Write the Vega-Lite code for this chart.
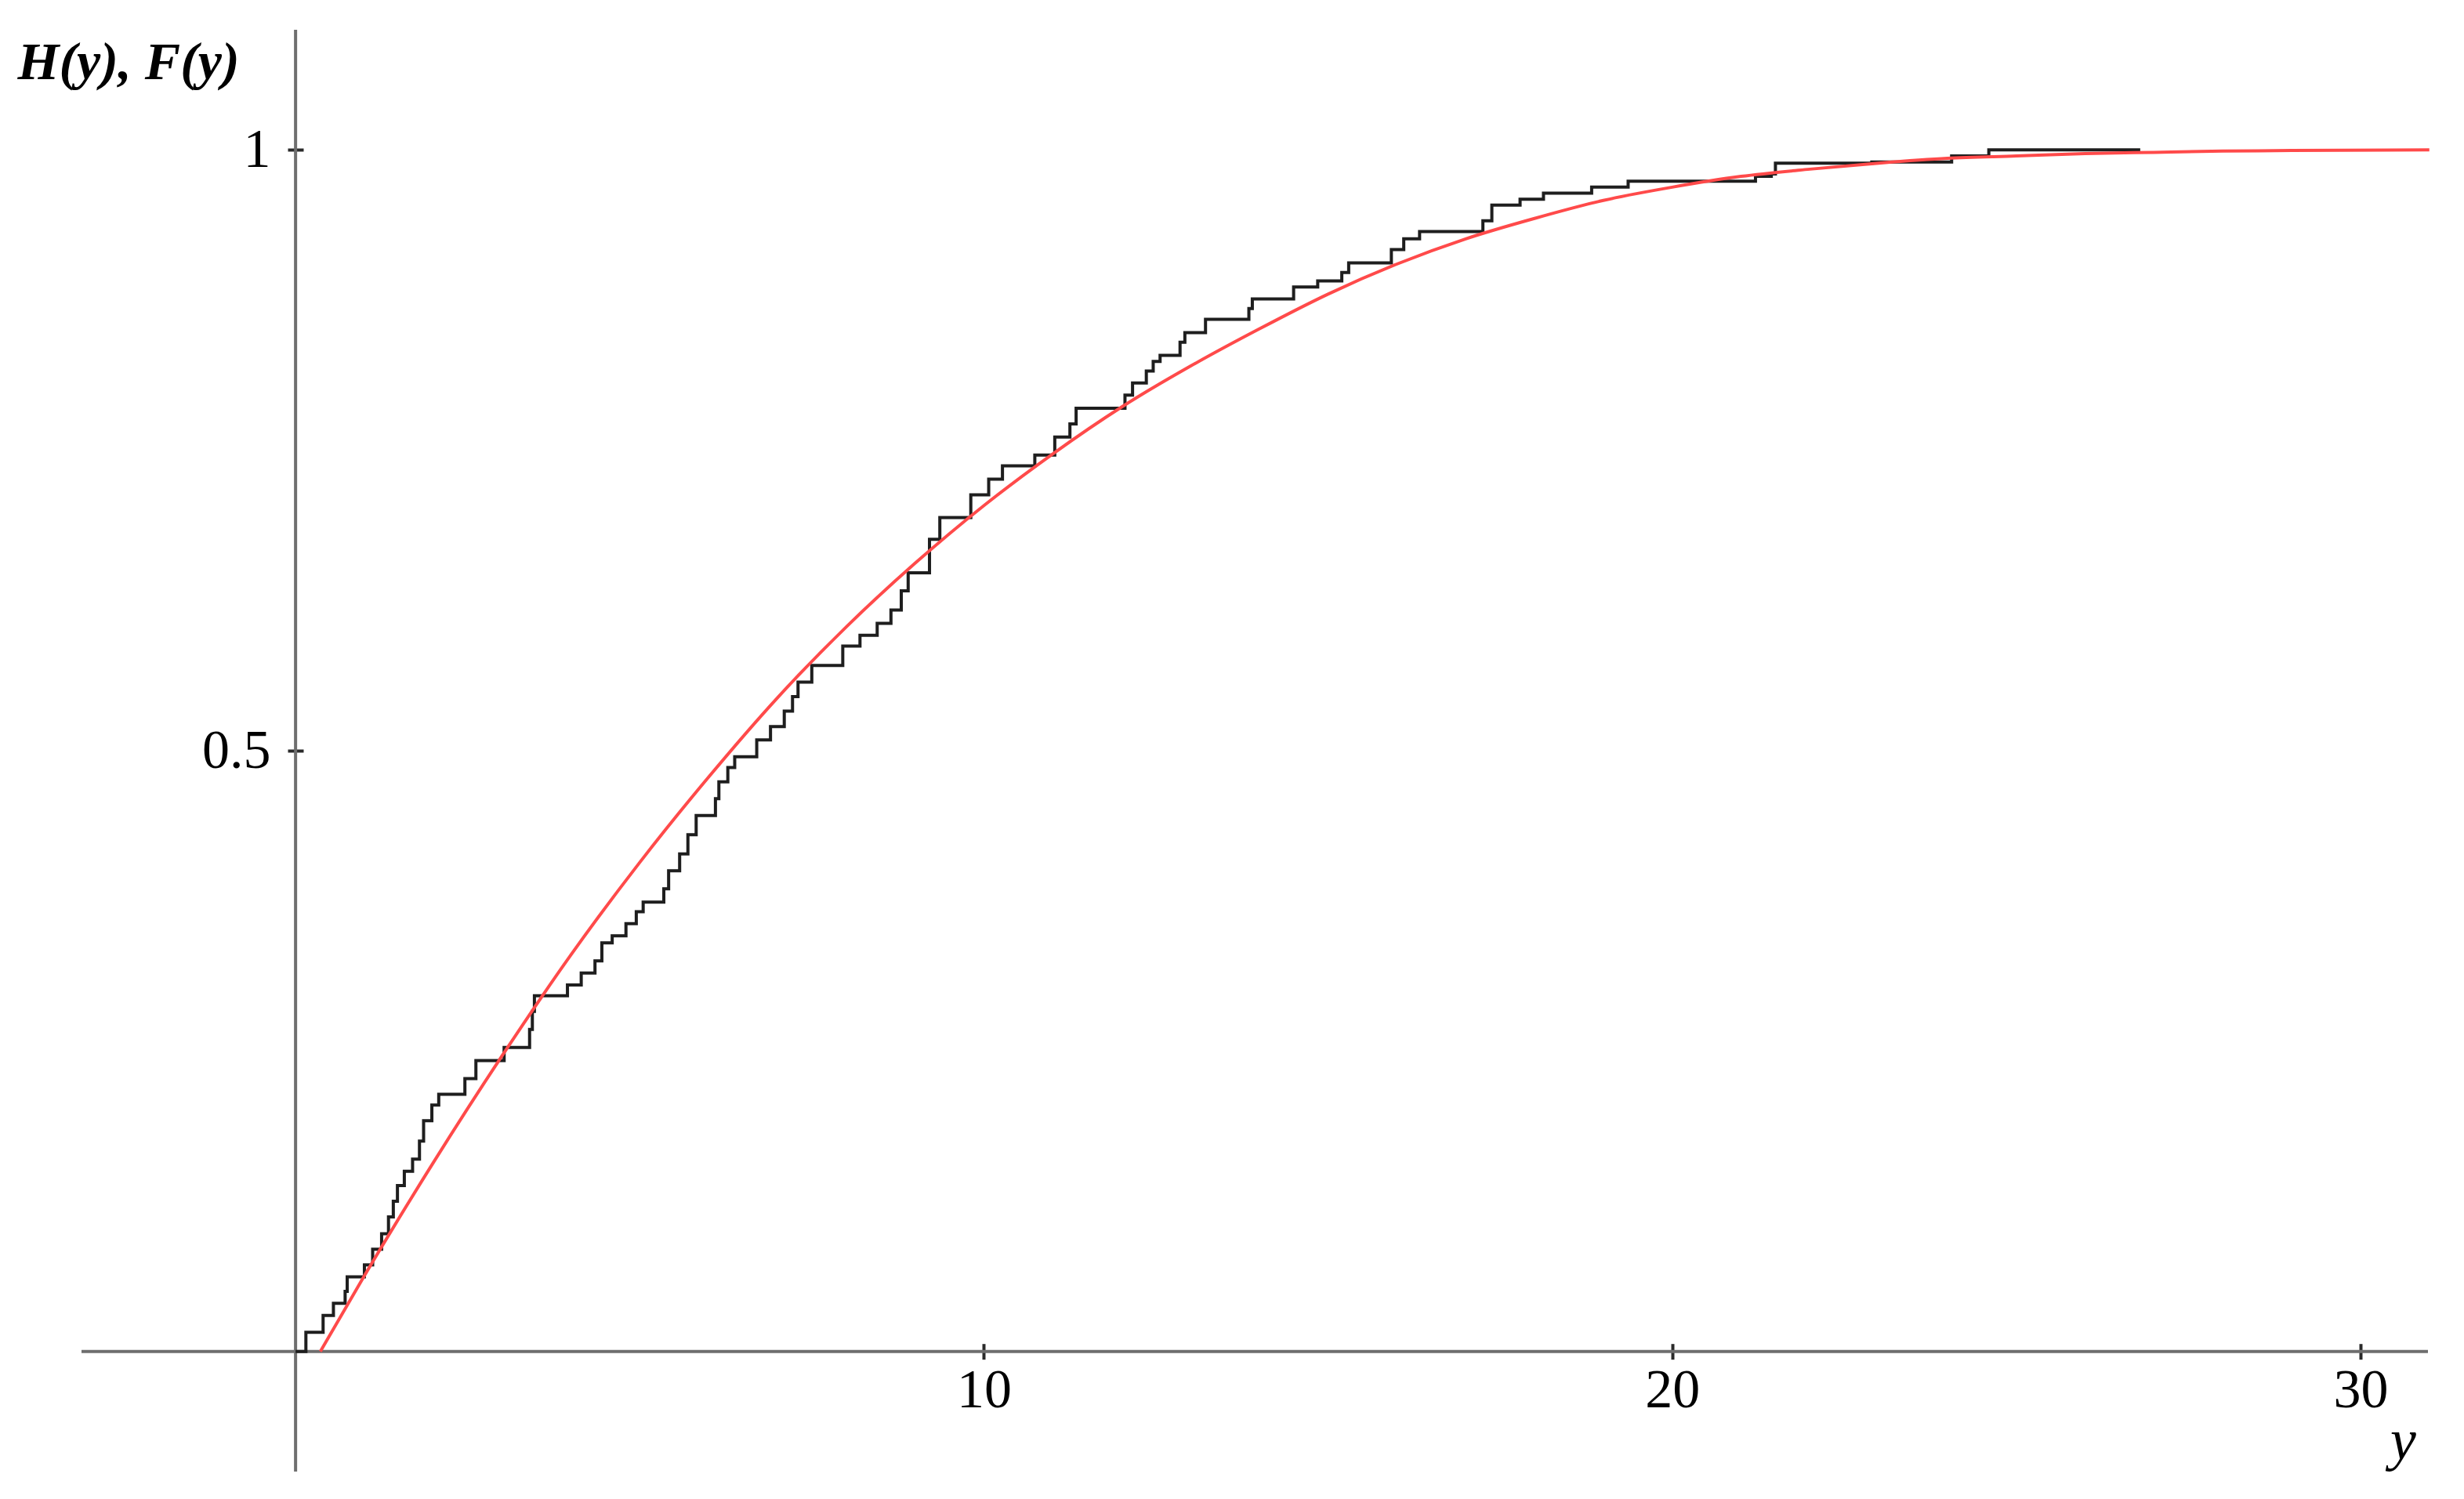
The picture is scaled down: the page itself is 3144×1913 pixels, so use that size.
{
  "$schema": "https://vega.github.io/schema/vega-lite/v6.json",
  "width": 2994,
  "height": 1840,
  "autosize": {"type": "none"},
  "padding": {"left": 104, "top": 38, "right": 46, "bottom": 35},
  "background": "white",
  "config": {"view": {"stroke": null}},
  "datasets": {
    "H": [
      {"x": 0, "y": 0}, {"x": 0.15, "y": 0.016}, {"x": 0.4, "y": 0.03}, {"x": 0.55, "y": 0.04},
      {"x": 0.72, "y": 0.05}, {"x": 0.75, "y": 0.062}, {"x": 1.0, "y": 0.072}, {"x": 1.12, "y": 0.085},
      {"x": 1.25, "y": 0.098}, {"x": 1.35, "y": 0.112}, {"x": 1.42, "y": 0.125}, {"x": 1.48, "y": 0.138},
      {"x": 1.58, "y": 0.15}, {"x": 1.7, "y": 0.16}, {"x": 1.8, "y": 0.175}, {"x": 1.86, "y": 0.192},
      {"x": 1.98, "y": 0.205}, {"x": 2.08, "y": 0.214}, {"x": 2.46, "y": 0.227}, {"x": 2.62, "y": 0.242},
      {"x": 3.03, "y": 0.253}, {"x": 3.4, "y": 0.268}, {"x": 3.44, "y": 0.283}, {"x": 3.47, "y": 0.296},
      {"x": 3.95, "y": 0.305}, {"x": 4.15, "y": 0.315}, {"x": 4.35, "y": 0.325}, {"x": 4.45, "y": 0.34},
      {"x": 4.6, "y": 0.346}, {"x": 4.8, "y": 0.356}, {"x": 4.95, "y": 0.366}, {"x": 5.05, "y": 0.374},
      {"x": 5.35, "y": 0.385}, {"x": 5.42, "y": 0.4}, {"x": 5.58, "y": 0.414}, {"x": 5.7, "y": 0.43},
      {"x": 5.82, "y": 0.446}, {"x": 6.1, "y": 0.46}, {"x": 6.15, "y": 0.474}, {"x": 6.28, "y": 0.486},
      {"x": 6.38, "y": 0.495}, {"x": 6.7, "y": 0.509}, {"x": 6.9, "y": 0.52}, {"x": 7.1, "y": 0.533},
      {"x": 7.22, "y": 0.545}, {"x": 7.3, "y": 0.557}, {"x": 7.5, "y": 0.571}, {"x": 7.95, "y": 0.587},
      {"x": 8.2, "y": 0.596}, {"x": 8.45, "y": 0.606}, {"x": 8.65, "y": 0.617}, {"x": 8.8, "y": 0.633},
      {"x": 8.9, "y": 0.648}, {"x": 9.21, "y": 0.676}, {"x": 9.36, "y": 0.694}, {"x": 9.81, "y": 0.713},
      {"x": 10.07, "y": 0.726}, {"x": 10.27, "y": 0.737}, {"x": 10.74, "y": 0.746}, {"x": 11.03, "y": 0.761},
      {"x": 11.25, "y": 0.772}, {"x": 11.34, "y": 0.785}, {"x": 12.05, "y": 0.796}, {"x": 12.16, "y": 0.806},
      {"x": 12.36, "y": 0.816}, {"x": 12.46, "y": 0.824}, {"x": 12.56, "y": 0.829}, {"x": 12.85, "y": 0.84},
      {"x": 12.92, "y": 0.848}, {"x": 13.22, "y": 0.859}, {"x": 13.85, "y": 0.868}, {"x": 13.9, "y": 0.876},
      {"x": 14.5, "y": 0.886}, {"x": 14.85, "y": 0.891}, {"x": 15.2, "y": 0.898}, {"x": 15.3, "y": 0.906},
      {"x": 15.92, "y": 0.917}, {"x": 16.1, "y": 0.926}, {"x": 16.33, "y": 0.932}, {"x": 17.25, "y": 0.941},
      {"x": 17.38, "y": 0.954}, {"x": 17.79, "y": 0.959}, {"x": 18.13, "y": 0.964}, {"x": 18.83, "y": 0.969},
      {"x": 19.36, "y": 0.974}, {"x": 21.21, "y": 0.978}, {"x": 21.44, "y": 0.98}, {"x": 21.5, "y": 0.989},
      {"x": 22.9, "y": 0.99}, {"x": 24.06, "y": 0.995}, {"x": 24.6, "y": 1.0}, {"x": 26.8, "y": 1.0}
    ],
    "F": [
      {"x": 0.36, "y": 0}, {"x": 1, "y": 0.063}, {"x": 2, "y": 0.157}, {"x": 3, "y": 0.246},
      {"x": 4, "y": 0.33}, {"x": 5, "y": 0.407}, {"x": 6, "y": 0.478}, {"x": 7, "y": 0.544},
      {"x": 8, "y": 0.603}, {"x": 9, "y": 0.656}, {"x": 10, "y": 0.704}, {"x": 11, "y": 0.747},
      {"x": 12, "y": 0.786}, {"x": 13, "y": 0.82}, {"x": 14, "y": 0.851}, {"x": 15, "y": 0.88},
      {"x": 16, "y": 0.905}, {"x": 17, "y": 0.926}, {"x": 18, "y": 0.943}, {"x": 19, "y": 0.958},
      {"x": 20, "y": 0.969}, {"x": 21, "y": 0.978}, {"x": 22, "y": 0.984}, {"x": 23, "y": 0.989},
      {"x": 24, "y": 0.993}, {"x": 25, "y": 0.995}, {"x": 26, "y": 0.997}, {"x": 27, "y": 0.998},
      {"x": 28, "y": 0.999}, {"x": 29, "y": 0.9995}, {"x": 31, "y": 1.0}
    ]
  },
  "layer": [
    {
      "data": {"values": [{}]},
      "mark": {"type": "rule", "color": "#6e6e6e", "strokeWidth": 4},
      "encoding": {
        "y": {
          "datum": 0, "type": "quantitative",
          "scale": {"domain": [-0.1, 1.1], "nice": false, "zero": false},
          "axis": {
            "values": [0.5, 1], "format": "~g", "domain": false, "grid": false,
            "offset": -283, "tickSize": 20, "tickWidth": 4, "tickColor": "#2a2a2a",
            "labelFont": "Liberation Serif", "labelFontSize": 70, "labelColor": "#000000",
            "labelPadding": 22, "labelFlush": false, "labelOverlap": false,
            "title": "H(y), F(y)", "titleFont": "Liberation Serif", "titleFontStyle": "italic",
            "titleFontWeight": "bold", "titleFontSize": 68, "titleColor": "#000000",
            "titleX": -365, "titleY": 62, "titleAlign": "left", "titleBaseline": "alphabetic", "titleAngle": 0
          }
        }
      }
    },
    {
      "data": {"values": [{}]},
      "mark": {"type": "rule", "color": "#6e6e6e", "strokeWidth": 4},
      "encoding": {
        "x": {
          "datum": 0, "type": "quantitative",
          "scale": {"domain": [-3.11, 30.98], "nice": false, "zero": false},
          "axis": {
            "values": [10, 20, 30], "format": "~g", "domain": false, "grid": false,
            "offset": -163.3, "tickSize": 20, "tickWidth": 4, "tickColor": "#2a2a2a",
            "labelFont": "Liberation Serif", "labelFontSize": 70, "labelColor": "#000000",
            "labelPadding": 6, "labelFlush": false, "labelOverlap": false,
            "title": "y", "titleFont": "Liberation Serif", "titleFontStyle": "italic",
            "titleFontWeight": "normal", "titleFontSize": 74, "titleColor": "#000000",
            "titleX": 2962, "titleY": 147, "titleAlign": "center", "titleBaseline": "alphabetic", "titleAngle": 0
          }
        }
      }
    },
    {
      "data": {"name": "H"},
      "mark": {"type": "line", "interpolate": "step-after", "color": "#1e1e1e", "strokeWidth": 4},
      "encoding": {
        "x": {"field": "x", "type": "quantitative", "title": "y"},
        "y": {"field": "y", "type": "quantitative", "title": "H(y), F(y)"}
      }
    },
    {
      "data": {"name": "F"},
      "mark": {"type": "line", "interpolate": "monotone", "color": "#ff4a4a", "strokeWidth": 4},
      "encoding": {
        "x": {"field": "x", "type": "quantitative", "title": "y"},
        "y": {"field": "y", "type": "quantitative", "title": "H(y), F(y)"}
      }
    }
  ]
}
